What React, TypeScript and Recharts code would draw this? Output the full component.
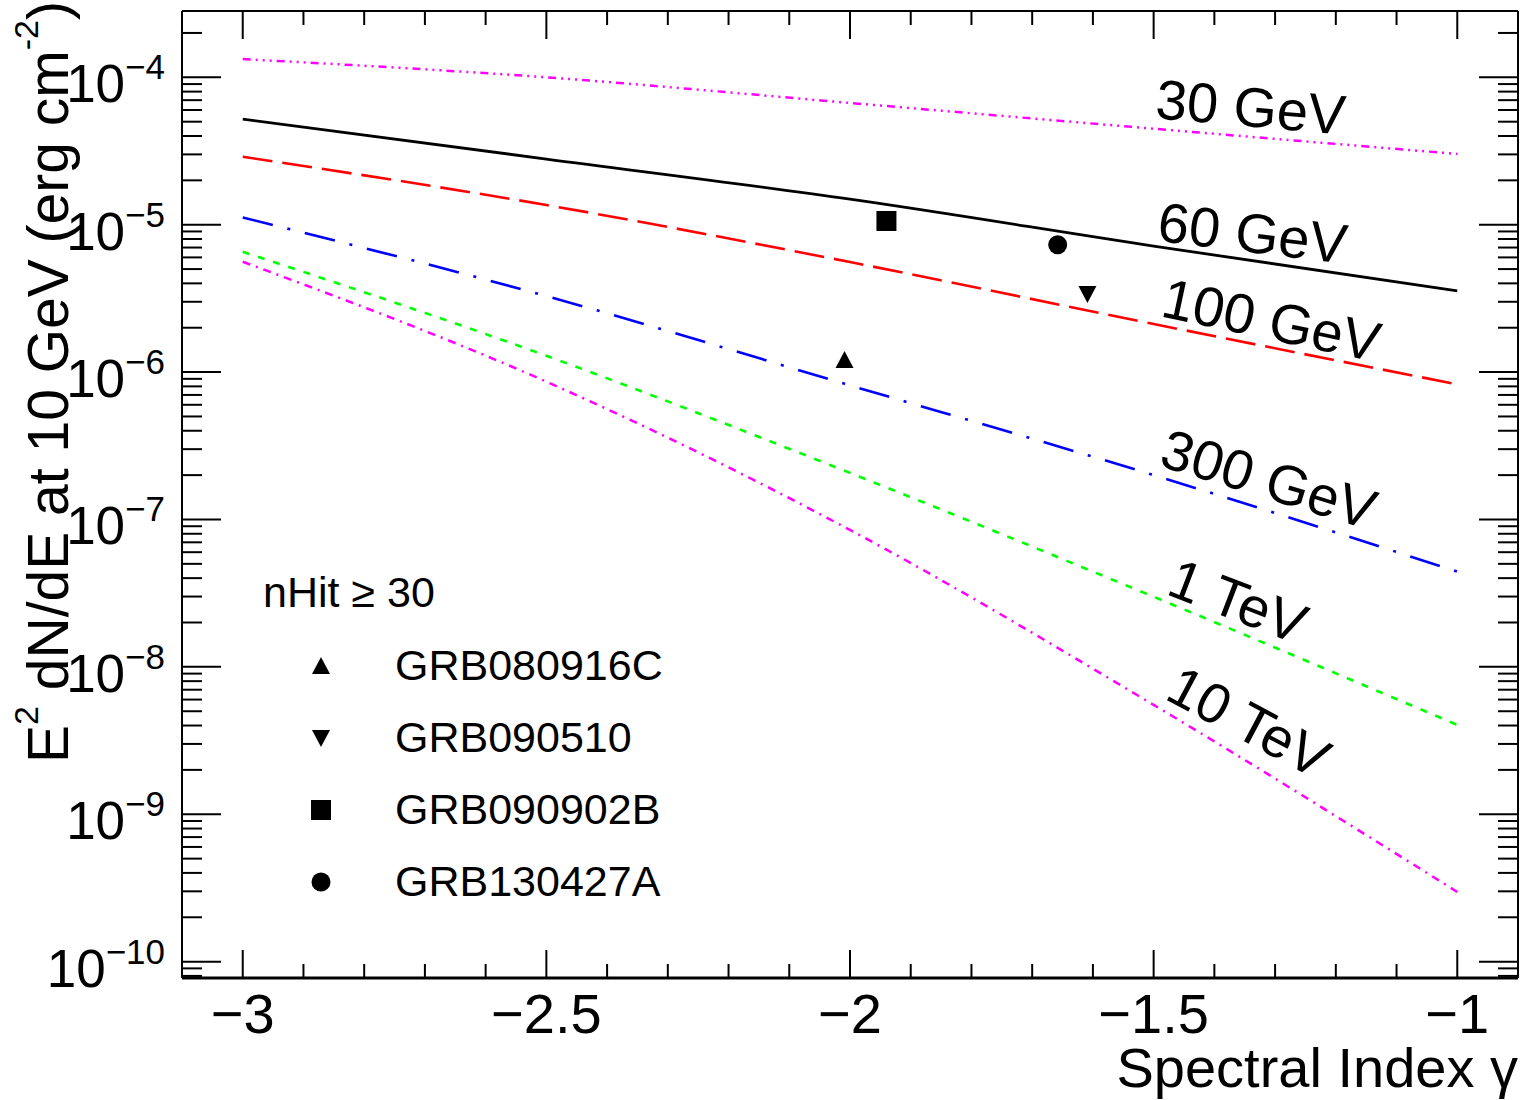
import React from "react";
import {
  ComposedChart,
  Line,
  Scatter,
  XAxis,
  YAxis,
  ReferenceDot,
  Legend,
} from "recharts";

const FONT = '"Liberation Sans", Arial, Helvetica, sans-serif';

const gammas = [-3, -2.5, -2, -1.5, -1];

// E^2 dN/dE at 10 GeV (erg cm^-2), one list per photon energy
const flux30GeV = [1.33e-4, 1.0e-4, 6.7e-5, 4.48e-5, 3.02e-5];
const flux60GeV = [5.21e-5, 2.79e-5, 1.49e-5, 7.16e-6, 3.56e-6];
const flux100GeV = [2.89e-5, 1.36e-5, 5.58e-6, 2.12e-6, 8.26e-7];
const flux300GeV = [1.12e-5, 3.28e-6, 8.13e-7, 2.0e-7, 4.43e-8];
const flux1TeV = [6.56e-6, 1.29e-6, 2.07e-7, 2.99e-8, 4.04e-9];
const flux10TeV = [5.61e-6, 8.61e-7, 8.49e-8, 5.52e-9, 2.97e-10];

const curveNames = ["30 GeV", "60 GeV", "100 GeV", "300 GeV", "1 TeV", "10 TeV"];
// where each curve label sits (gamma, flux)
const labelGamma = [-1.34, -1.337, -1.306, -1.31, -1.361, -1.343];
const labelFlux = [6.29e-5, 8.79e-6, 2.26e-6, 1.88e-7, 2.8e-8, 4.24e-9];

// bursts
const grbNames = ["GRB080916C", "GRB090510", "GRB090902B", "GRB130427A"];
const grbGamma = [-2.009, -1.609, -1.94, -1.658];
const grbFlux = [1.21e-6, 3.39e-6, 1.06e-5, 7.31e-6];

const legendTitle = "nHit \u2265 30";

const LOG_MIN = -10.111;
const LOG_MAX = -3.55;
const Y_DOMAIN = [Math.pow(10, LOG_MIN), Math.pow(10, LOG_MAX)];
const X_DOMAIN = [-3.1, -0.9];

const CURVES = [
  { key: "f30", color: "#ff00ff", dash: "8 5 2 5 2 5 2 5", width: 2.5 },
  { key: "f60", color: "#000000", dash: undefined, width: 2.8 },
  { key: "f100", color: "#ff0000", dash: "30 10", width: 2.6 },
  { key: "f300", color: "#0000ff", dash: "31 15 3 15", width: 2.6 },
  { key: "f1000", color: "#00ff00", dash: "7 9", width: 2.6 },
  { key: "f10000", color: "#ff00ff", dash: "8 6 2 6", width: 2.5 },
];
const LABEL_ANGLES = [5, 7, 12, 17, 21, 28];
const GRB_MARKERS = ["triUp", "triDown", "square", "circle"];

const table = gammas.map((g, i) => ({
  g,
  f30: flux30GeV[i],
  f60: flux60GeV[i],
  f100: flux100GeV[i],
  f300: flux300GeV[i],
  f1000: flux1TeV[i],
  f10000: flux10TeV[i],
}));

const grbData = grbNames.map((name, i) => ({
  g: grbGamma[i],
  f: grbFlux[i],
  name,
  kind: GRB_MARKERS[i],
}));

// minor every 0.1, major every 0.5
const xTicks: number[] = [];
for (let i = -30; i <= -10; i++) xTicks.push(i / 10);

const yTicks: number[] = [];
for (let d = -11; d <= -4; d++) {
  for (let k = 1; k <= 9; k++) {
    const v = Number((k * Math.pow(10, d)).toPrecision(10));
    const l = Math.log10(v);
    if (l > LOG_MIN && l < LOG_MAX) yTicks.push(v);
  }
}

const isMajorX = (v: number) => Math.abs(v * 2 - Math.round(v * 2)) < 1e-6;
const isMajorY = (v: number) => {
  const l = Math.log10(v);
  return Math.abs(l - Math.round(l)) < 1e-6;
};
const fmtX = (v: number) => (v < 0 ? "\u2212" : "") + String(Math.abs(v));

function Marker({ kind, cx, cy }: { kind: string; cx: number; cy: number }) {
  if (kind === "triUp")
    return <polygon points={`${cx},${cy - 9} ${cx + 9},${cy + 8} ${cx - 9},${cy + 8}`} fill="#000" />;
  if (kind === "triDown")
    return <polygon points={`${cx - 9},${cy - 8} ${cx + 9},${cy - 8} ${cx},${cy + 9}`} fill="#000" />;
  if (kind === "square") return <rect x={cx - 10} y={cy - 10} width={20} height={20} fill="#000" />;
  return <circle cx={cx} cy={cy} r={9.5} fill="#000" />;
}

function BottomTick({ x, y, payload }: any) {
  const v = payload.value;
  const major = isMajorX(v);
  return (
    <g>
      <line x1={x} x2={x} y1={y} y2={y - (major ? 28 : 14)} stroke="#000" strokeWidth={2} />
      {major && (
        <text x={x} y={y + 55} textAnchor="middle" fontSize={56} fontFamily={FONT} fill="#000">
          {fmtX(v)}
        </text>
      )}
    </g>
  );
}

function TopTick({ x, y, payload }: any) {
  const major = isMajorX(payload.value);
  return <line x1={x} x2={x} y1={y} y2={y + (major ? 28 : 14)} stroke="#000" strokeWidth={2} />;
}

function LeftTick({ x, y, payload }: any) {
  const v = payload.value;
  const major = isMajorY(v);
  const exp = Math.round(Math.log10(v));
  return (
    <g>
      <line x1={x} x2={x + (major ? 39 : 20)} y1={y} y2={y} stroke="#000" strokeWidth={2} />
      {major && (
        <text x={x - 17} y={y + 25} textAnchor="end" fontSize={53} fontFamily={FONT} fill="#000">
          10
          <tspan fontSize={35} dy={-23}>
            {"\u2212" + Math.abs(exp)}
          </tspan>
        </text>
      )}
    </g>
  );
}

function RightTick({ x, y, payload }: any) {
  const major = isMajorY(payload.value);
  return <line x1={x} x2={x - (major ? 39 : 20)} y1={y} y2={y} stroke="#000" strokeWidth={2} />;
}

function YTitle({ viewBox }: any) {
  const x = viewBox.x + 68;
  const y = viewBox.y - 10;
  return (
    <text
      x={x}
      y={y}
      transform={`rotate(-90, ${x}, ${y})`}
      textAnchor="end"
      fontSize={57}
      fontFamily={FONT}
      fill="#000"
    >
      E
      <tspan fontSize={34} dy={-30}>2</tspan>
      <tspan dy={30}> dN/dE at 10 GeV (erg cm</tspan>
      <tspan fontSize={34} dy={-30}>-2</tspan>
      <tspan dy={30}>)</tspan>
    </text>
  );
}

function XTitle({ viewBox }: any) {
  return (
    <text
      x={viewBox.x + viewBox.width}
      y={viewBox.y + 109}
      textAnchor="end"
      fontSize={56}
      fontFamily={FONT}
      fill="#000"
    >
      Spectral Index {"\u03b3"}
    </text>
  );
}

function GrbLegend() {
  return (
    <svg width={460} height={345} style={{ display: "block" }}>
      <text x={33} y={47} fontSize={43} fontFamily={FONT} fill="#000">
        {legendTitle}
      </text>
      {grbData.map((d, i) => (
        <g key={d.name}>
          <Marker kind={d.kind} cx={91} cy={106 + i * 72} />
          <text x={165} y={120 + i * 72} fontSize={43} fontFamily={FONT} fill="#000">
            {d.name}
          </text>
        </g>
      ))}
    </svg>
  );
}

export default function App() {
  return (
    <div style={{ position: "absolute", left: 0, top: 0, width: 1526, height: 1100, background: "#fff" }}>
      <ComposedChart
        width={1526}
        height={1100}
        data={table}
        margin={{ top: 10, right: 7, bottom: 0, left: 0 }}
      >
        <XAxis
          xAxisId="b"
          dataKey="g"
          type="number"
          domain={X_DOMAIN}
          allowDataOverflow
          ticks={xTicks}
          interval={0}
          height={122}
          tickSize={0}
          tickMargin={0}
          tickLine={false}
          tick={<BottomTick />}
          axisLine={{ stroke: "#000", strokeWidth: 3 }}
          label={<XTitle />}
        />
        <XAxis
          xAxisId="t"
          dataKey="g"
          orientation="top"
          type="number"
          domain={X_DOMAIN}
          allowDataOverflow
          ticks={xTicks}
          interval={0}
          height={1}
          tickSize={0}
          tickMargin={0}
          tickLine={false}
          tick={<TopTick />}
          axisLine={{ stroke: "#000", strokeWidth: 2 }}
        />
        <YAxis
          yAxisId="l"
          scale="log"
          type="number"
          domain={Y_DOMAIN}
          allowDataOverflow
          ticks={yTicks}
          interval={0}
          width={182}
          tickSize={0}
          tickMargin={0}
          tickLine={false}
          tick={<LeftTick />}
          axisLine={{ stroke: "#000", strokeWidth: 2 }}
          label={<YTitle />}
        />
        <YAxis
          yAxisId="r"
          orientation="right"
          scale="log"
          type="number"
          domain={Y_DOMAIN}
          allowDataOverflow
          ticks={yTicks}
          interval={0}
          width={1}
          tickSize={0}
          tickMargin={0}
          tickLine={false}
          tick={<RightTick />}
          axisLine={{ stroke: "#000", strokeWidth: 2 }}
        />

        {/* invisible copy so the mirrored frame axes get drawn */}
        <Line
          xAxisId="t"
          yAxisId="r"
          dataKey="f60"
          stroke="none"
          dot={false}
          activeDot={false}
          legendType="none"
          isAnimationActive={false}
        />

        {CURVES.map((c) => (
          <Line
            key={c.key}
            xAxisId="b"
            yAxisId="l"
            dataKey={c.key}
            type="monotone"
            stroke={c.color}
            strokeWidth={c.width}
            strokeDasharray={c.dash}
            dot={false}
            activeDot={false}
            isAnimationActive={false}
          />
        ))}

        <Scatter
          xAxisId="b"
          yAxisId="l"
          data={grbData}
          dataKey="f"
          isAnimationActive={false}
          shape={(p: any) => <Marker kind={p.payload.kind} cx={p.cx} cy={p.cy} />}
        />

        {curveNames.map((name, i) => (
          <ReferenceDot
            key={name}
            xAxisId="b"
            yAxisId="l"
            x={labelGamma[i]}
            y={labelFlux[i]}
            r={0}
            shape={(p: any) => (
              <text
                x={p.cx}
                y={p.cy}
                transform={`rotate(${LABEL_ANGLES[i]}, ${p.cx}, ${p.cy})`}
                textAnchor="middle"
                dominantBaseline="central"
                fontSize={56}
                fontFamily={FONT}
                fill="#000"
              >
                {name}
              </text>
            )}
          />
        ))}

        <Legend
          layout="vertical"
          align="center"
          verticalAlign="middle"
          content={() => <GrbLegend />}
          wrapperStyle={{ left: 230, top: 560, width: 460, height: 345 }}
        />
      </ComposedChart>
    </div>
  );
}
